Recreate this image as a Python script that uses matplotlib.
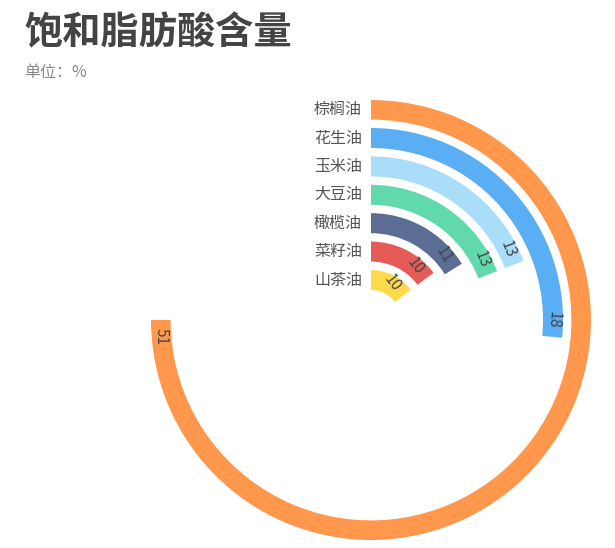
import numpy as np
import matplotlib
matplotlib.use("Agg")
import matplotlib.pyplot as plt

plt.rcParams['font.family'] = ['Noto Sans CJK SC', 'DejaVu Sans']

oils = ["棕榈油", "花生油", "玉米油", "大豆油", "橄榄油", "菜籽油", "山茶油"]
values = [51, 18, 13, 13, 11, 10, 10]
colors = ["#FF984D", "#5AAEF4", "#A9DDF8", "#62D9AD", "#5B6D95", "#E45B58", "#FDDA4B"]
max_value = 68

W, H = 615, 548
fig = plt.figure(figsize=(W / 100, H / 100), dpi=100)

# polar axes: centre at (371, 320) px, outer radius 220 px
cx, cy, R = 371, 320, 220
ax = fig.add_axes([(cx - R) / W, (H - cy - R) / H, 2 * R / W, 2 * R / H], projection="polar")
ax.set_theta_zero_location("N")
ax.set_theta_direction(-1)
ax.set_ylim(0, R)
ax.axis("off")

bar_w = 20
radii = [40 + 28.4 * (len(oils) - 1 - i) for i in range(len(oils))]

for oil, v, c, r in zip(oils, values, colors, radii):
    theta = v / max_value * 2 * np.pi
    ax.bar(0, bar_w, width=theta, bottom=r - bar_w / 2, align="edge", color=c, linewidth=0)
    # category label to the left of the bar start
    ax.annotate(oil, xy=(0, r), xytext=(-6.5, 0), textcoords="offset points",
                ha="right", va="center", fontsize=11.5, color="#555555")
    # value label inside bar end
    deg = np.degrees(theta)
    rot = -(deg % 180)
    pad = 8 / r
    ha = "right" if deg < 180 else "left"
    ax.text(theta - pad, r, str(v), rotation=rot, rotation_mode="anchor",
            ha=ha, va="center", fontsize=11, color="#444444")

fig.text(24 / W, 1 - 33 / H, "饱和脂肪酸含量", fontsize=27.5, fontweight="bold",
         color="#444444", ha="left", va="center")
fig.text(24 / W, 1 - 72 / H, "单位：%", fontsize=11.5, color="#888888",
         ha="left", va="center")

fig.savefig("out.png", dpi=100)
